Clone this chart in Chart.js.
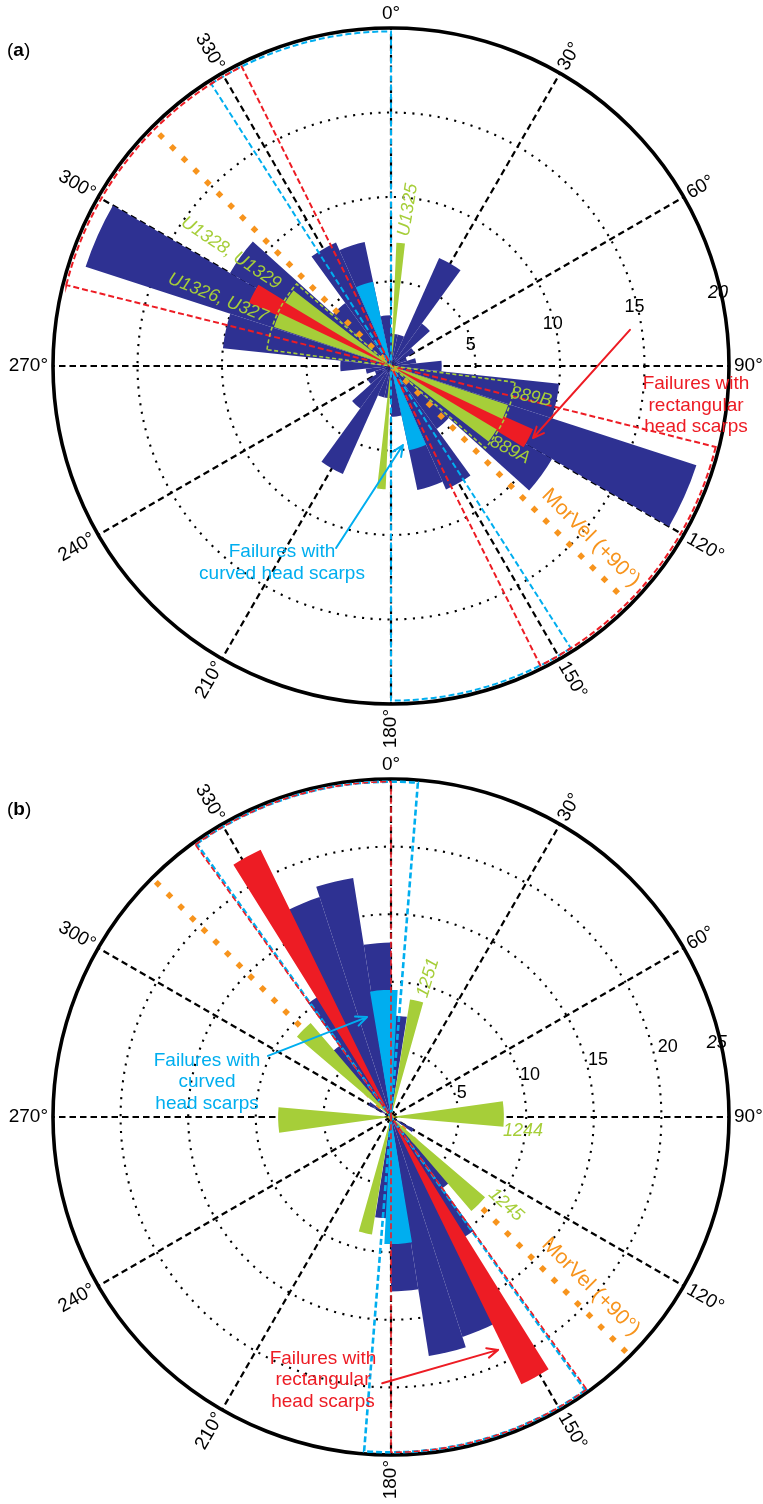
<!DOCTYPE html>
<html>
<head>
<meta charset="utf-8">
<title>Rose diagrams of slope-failure head scarps</title>
<script src="https://cdn.jsdelivr.net/npm/chart.js@4.4.1/dist/chart.umd.min.js"></script>
<style>
  html, body { margin: 0; padding: 0; background: #fff; }
  #wrap { position: relative; width: 763px; height: 1504px; overflow: hidden; }
  canvas { position: absolute; left: 0; }
  #roseA { top: 0; }
  #roseB { top: 752px; }
</style>
</head>
<body>
<div id="wrap">
  <canvas id="roseA" width="763" height="752"></canvas>
  <canvas id="roseB" width="763" height="752"></canvas>
</div>
<script>
// ---------------------------------------------------------------------------
// Data (bearings in degrees clockwise from north; lengths = counts)
// ---------------------------------------------------------------------------
const bearingTicks = [0, 30, 60, 90, 120, 150, 180, 210, 240, 270, 300, 330];

// Panel (a): axial data in 12° bins over 0–180°, mirrored through the centre
const binWidthA = 12;
const scarpsA = [1.9, 1.9, 7.0, 3.1, 1.6, 1.0, 1.5, 3.0, 10.0, 19.0, 11.0, 4.6, 8.0, 7.5, 3.0];
const curvedA = [[156, 168, 5.1]];
const rectangularA = [[114, 121.5, 9.2]];
const sitesA = [[2.5, 6.5, 7.3], [108.4, 115.5, 7.3], [121, 127.8, 7.3]];
const curvedRangeA = [[147.5, 180, 19.8]];
const rectangularRangeA = [[104, 153.5, 19.8]];
const siteRangeA = [[97.5, 131, 7.4]];
const morvelA = [135, 19.4];
const radialTicksA = [5, 10, 15, 20];

// Panel (b): axial data in 9° bins over 0–180°, mirrored through the centre
const binWidthB = 9;
const scarpsB = [7.5, 0, 0, 0, 0, 0, 0, 0, 0, 0, 0, 0, 0, 1.9, 0, 6.5, 10.4, 17.1, 17.9, 12.9];
const curvedB = [[170.5, 183, 9.4]];
const rectangularB = [[148, 154, 22]];
const sitesB = [[9.2, 15.7, 8.8], [82, 95, 8.35], [130.5, 139.5, 9.15]];
const curvedRangeB = [[144.6, 184.6, 24.8]];
const rectangularRangeB = [[144.3, 180, 24.8]];
const siteRangeB = [];
const morvelB = [135, 24.6];
const radialTicksB = [5, 10, 15, 20, 25];

// ---------------------------------------------------------------------------
// Styling
// ---------------------------------------------------------------------------
const NAVY = '#2E3192', CYAN = '#00AEEF', RED = '#ED1C24', GREEN = '#A6CE39', ORANGE = '#F7941D';
const FONT = '"Liberation Sans", Arial, Helvetica, sans-serif';

// ---------------------------------------------------------------------------
// Helpers
// ---------------------------------------------------------------------------
function bothWays(sectors) {
  return sectors.flatMap(([a, b, v]) => [[a, b, v], [a + 180, b + 180, v]]);
}
function binSectors(values, width) {
  return values.map((v, i) => [i * width, (i + 1) * width, v]).filter(s => s[2] > 0);
}
// Turn [from, to, value] sectors into consecutive arcs (value + angular width)
// starting at the scale's start bearing; gaps become zero-length arcs.
function toArcs(sectors, start) {
  const pieces = [];
  sectors.forEach(([a, b, v]) => {
    const s = ((a - start) % 360 + 360) % 360;
    const e = s + (b - a);
    if (e > 360) { pieces.push([s, 360, v], [0, e - 360, v]); }
    else { pieces.push([s, e, v]); }
  });
  pieces.sort((p, q) => p[0] - q[0]);
  const values = [], angles = [];
  let cur = 0;
  pieces.forEach(([s, e, v]) => {
    if (s - cur > 1e-6) { values.push(0); angles.push(s - cur); }
    const w = e - Math.max(s, cur);
    if (w > 1e-6) { values.push(v); angles.push(w); }
    cur = Math.max(cur, e);
  });
  return { values, angles };
}
function fillSet(sectors, start, color, order, name) {
  const { values, angles } = toArcs(sectors, start);
  return {
    label: name, data: values, order,
    angle: c => angles[c.dataIndex],
    backgroundColor: color, borderWidth: 0
  };
}
function outlineSet(sectors, start, color, width, dash, order) {
  const { values, angles } = toArcs(sectors, start);
  return {
    label: 'outline', data: values, order,
    angle: c => angles[c.dataIndex],
    backgroundColor: 'rgba(0,0,0,0)', borderColor: color,
    borderWidth: c => (c.raw > 0 ? width : 0),
    borderDash: dash, borderJoinStyle: 'miter', borderAlign: 'center'
  };
}
function polarXY(scale, bearing, value, extraPx) {
  const r = scale.getDistanceFromCenterForValue(value) + (extraPx || 0);
  const a = (bearing - 90) * Math.PI / 180;
  return { x: scale.xCenter + r * Math.cos(a), y: scale.yCenter + r * Math.sin(a) };
}

function drawMorvel(chart, p) {
  const s = chart.scales.r, ctx = chart.ctx;
  const [b, v] = p.morvel;
  const A = polarXY(s, b + 180, v), B = polarXY(s, b, v);
  ctx.save();
  ctx.strokeStyle = ORANGE; ctx.lineWidth = 5.5; ctx.setLineDash([5.5, 11]);
  ctx.beginPath(); ctx.moveTo(A.x, A.y); ctx.lineTo(B.x, B.y); ctx.stroke();
  ctx.restore();
}
function drawText(ctx, s, t) {
  const pos = polarXY(s, t.at[0], t.at[1]);
  ctx.save();
  ctx.translate(pos.x, pos.y);
  ctx.rotate((t.rot || 0) * Math.PI / 180);
  ctx.font = (t.italic ? 'italic ' : '') + t.size + 'px ' + FONT;
  ctx.fillStyle = t.color; ctx.textAlign = 'center'; ctx.textBaseline = 'middle';
  const lh = t.size * 1.13;
  t.lines.forEach((line, i) => ctx.fillText(line, 0, (i - (t.lines.length - 1) / 2) * lh));
  ctx.restore();
}
function drawArrow(ctx, s, a) {
  const P = polarXY(s, a.from[0], a.from[1]), Q = polarXY(s, a.to[0], a.to[1]);
  const ang = Math.atan2(Q.y - P.y, Q.x - P.x), h = 12, spread = 0.42;
  ctx.save();
  ctx.strokeStyle = a.color; ctx.lineWidth = 2; ctx.lineCap = 'round'; ctx.lineJoin = 'round';
  ctx.beginPath();
  ctx.moveTo(P.x, P.y); ctx.lineTo(Q.x, Q.y);
  ctx.moveTo(Q.x - h * Math.cos(ang - spread), Q.y - h * Math.sin(ang - spread));
  ctx.lineTo(Q.x, Q.y);
  ctx.lineTo(Q.x - h * Math.cos(ang + spread), Q.y - h * Math.sin(ang + spread));
  ctx.stroke();
  ctx.restore();
}
function drawBearingLabels(ctx, s, max) {
  ctx.save();
  ctx.font = '19px ' + FONT; ctx.fillStyle = '#000';
  ctx.textAlign = 'center'; ctx.textBaseline = 'middle';
  bearingTicks.forEach(b => {
    const text = b + '°';
    const w = ctx.measureText(text).width;
    const half = b === 0 ? 9 : w / 2;
    const pos = polarXY(s, b, max, 5 + half);
    const rot = b === 0 ? 0 : (b < 180 ? b - 90 : b - 270);
    ctx.save();
    ctx.translate(pos.x, pos.y); ctx.rotate(rot * Math.PI / 180);
    ctx.fillText(text, 0, 0);
    ctx.restore();
  });
  ctx.restore();
}
function drawRadialTicks(ctx, s, p) {
  ctx.save();
  ctx.fillStyle = '#000'; ctx.textAlign = 'center'; ctx.textBaseline = 'middle';
  p.radialTicks.forEach((v, i) => {
    const [bearing, off] = p.tickLayout[i];
    const pos = polarXY(s, bearing, v, off);
    ctx.font = (v === p.max ? 'italic ' : '') + '18px ' + FONT;
    ctx.fillText(String(v), pos.x, pos.y);
  });
  ctx.restore();
}
function drawPanelLetter(ctx, letter, x, y) {
  ctx.save();
  ctx.fillStyle = '#000'; ctx.textBaseline = 'alphabetic'; ctx.textAlign = 'left';
  ctx.font = '19px ' + FONT;
  ctx.fillText('(', x, y);
  let cx = x + ctx.measureText('(').width;
  ctx.font = 'bold 19px ' + FONT;
  ctx.fillText(letter, cx, y);
  cx += ctx.measureText(letter).width;
  ctx.font = '19px ' + FONT;
  ctx.fillText(')', cx, y);
  ctx.restore();
}

function makeDecor(p) {
  return {
    id: 'roseDecor',
    afterDatasetDraw(chart, args) {
      if (chart.data.datasets[args.index].label === 'rectangular') drawMorvel(chart, p);
    },
    afterDatasetsDraw(chart) {
      const s = chart.scales.r, ctx = chart.ctx;
      drawBearingLabels(ctx, s, p.max);
      drawRadialTicks(ctx, s, p);
      p.texts.forEach(t => drawText(ctx, s, t));
      p.arrows.forEach(a => drawArrow(ctx, s, a));
      drawPanelLetter(ctx, p.letter, p.letterPos[0], p.letterPos[1]);
    }
  };
}

function buildRose(canvasId, p) {
  const st = p.start;
  const datasets = [
    fillSet(bothWays(binSectors(p.scarps, p.binWidth)), st, NAVY, 9, 'all'),
    fillSet(bothWays(p.curved), st, CYAN, 8, 'curved'),
    fillSet(bothWays(p.rectangular), st, RED, 7, 'rectangular'),
    fillSet(bothWays(p.sites), st, GREEN, 6, 'sites'),
    outlineSet(bothWays(p.curvedRange), st, CYAN, p.cyanWidth, [6, 3], 4),
    outlineSet(bothWays(p.rectangularRange), st, RED, p.redWidth, [6, 3], 3),
    outlineSet(bothWays(p.siteRange), st, GREEN, 1.6, [4, 2.5], 2)
  ];
  return new Chart(document.getElementById(canvasId), {
    type: 'polarArea',
    data: { labels: bearingTicks.map(b => b + '°'), datasets },
    options: {
      responsive: false,
      devicePixelRatio: 1,
      animation: false,
      events: [],
      layout: { padding: 0 },
      plugins: { legend: { display: false }, tooltip: { enabled: false } },
      scales: {
        r: {
          min: 0, max: p.max, startAngle: st,
          ticks: { display: false, stepSize: 5 },
          pointLabels: { display: false },
          grid: {
            circular: true, color: '#000',
            lineWidth: c => (c.tick.value === p.max ? 3.6 : 2.1)
          },
          border: { dash: c => (c.tick.value === p.max ? [] : [2.1, 6.4]) },
          angleLines: { display: true, color: '#000', lineWidth: 2.2, borderDash: [6.5, 4] },
          afterUpdate: scale => {
            scale.xCenter = p.center[0];
            scale.yCenter = p.center[1];
            scale.drawingArea = p.radius;
          }
        }
      }
    },
    plugins: [makeDecor(p)]
  });
}

// ---------------------------------------------------------------------------
// Panels
// ---------------------------------------------------------------------------
buildRose('roseA', {
  letter: 'a', letterPos: [7, 56],
  center: [391, 366], radius: 338, max: 20, start: 0,
  binWidth: binWidthA, scarps: scarpsA, curved: curvedA, rectangular: rectangularA, sites: sitesA,
  curvedRange: curvedRangeA, rectangularRange: rectangularRangeA, siteRange: siteRangeA,
  cyanWidth: 2, redWidth: 2,
  morvel: morvelA,
  radialTicks: radialTicksA,
  tickLayout: [[75.5, -2], [75.5, -2], [76.5, -3], [77.5, -3]],
  texts: [
    { lines: ['U1325'], at: [6.2, 9.29], rot: -80.5, color: GREEN, size: 18, italic: true },
    { lines: ['U1328, U1329'], at: [305.2, 11.59], rot: 34, color: GREEN, size: 18, italic: true },
    { lines: ['U1326, U327'], at: [291.5, 11.0], rot: 22, color: GREEN, size: 18, italic: true },
    { lines: ['889B'], at: [102.5, 8.49], rot: 12, color: GREEN, size: 18, italic: true },
    { lines: ['889A'], at: [125.2, 8.62], rot: 27, color: GREEN, size: 18, italic: true },
    { lines: ['MorVel (+90°)'], at: [130.7, 15.6], rot: 45, color: ORANGE, size: 21 },
    { lines: ['Failures with', 'rectangular', 'head scarps'], at: [97.4, 18.2], color: RED, size: 19 },
    { lines: ['Failures with', 'curved head scarps'], at: [209, 13.3], color: CYAN, size: 19 }
  ],
  arrows: [
    { from: [81.4, 14.3], to: [116.9, 9.42], color: RED },
    { from: [196.8, 11.25], to: [171.4, 4.73], color: CYAN }
  ]
});

buildRose('roseB', {
  letter: 'b', letterPos: [7, 815 - 752],
  center: [391, 365], radius: 338, max: 25, start: 300,
  binWidth: binWidthB, scarps: scarpsB, curved: curvedB, rectangular: rectangularB, sites: sitesB,
  curvedRange: curvedRangeB, rectangularRange: rectangularRangeB, siteRange: siteRangeB,
  cyanWidth: 2.6, redWidth: 1.6,
  morvel: morvelB,
  radialTicks: radialTicksB,
  tickLayout: [[71.5, 7], [73.2, 10], [74.6, 12], [75.8, 15], [77.2, -4]],
  texts: [
    { lines: ['1251'], at: [14.9, 10.64], rot: -73, color: GREEN, size: 18, italic: true },
    { lines: ['1244'], at: [96.1, 9.82], rot: 0, color: GREEN, size: 18, italic: true },
    { lines: ['1245'], at: [127.4, 10.71], rot: 42, color: GREEN, size: 18, italic: true },
    { lines: ['MorVel (+90°)'], at: [130.4, 19.4], rot: 45, color: ORANGE, size: 21 },
    { lines: ['Failures with', 'curved', 'head scarps'], at: [280.8, 13.85], color: CYAN, size: 19 },
    { lines: ['Failures with', 'rectangular', 'head scarps'], at: [194.5, 20.1], color: RED, size: 19 }
  ],
  arrows: [
    { from: [296.4, 10.16], to: [346.5, 7.6], color: CYAN },
    { from: [181.9, 19.7], to: [155.3, 18.96], color: RED }
  ]
});
</script>
</body>
</html>
